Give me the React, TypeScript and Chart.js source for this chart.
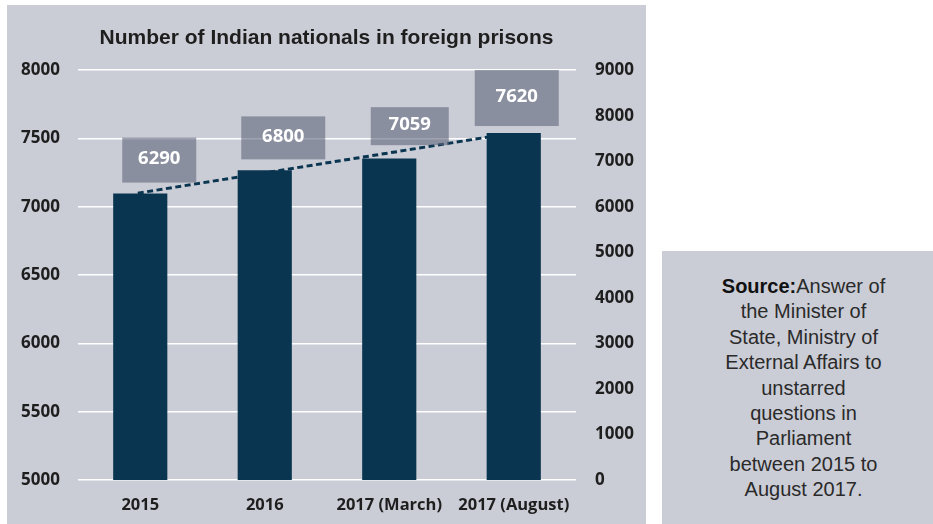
import React, { useEffect, useRef } from "react";
import { Chart, registerables } from "chart.js";

Chart.register(...registerables);

// ---- data ----
const categories = ["2015", "2016", "2017 (March)", "2017 (August)"];
const prisoners = [6290, 6800, 7059, 7620];
// dashed trend line end points (x in category-index units, y in right-axis units)
const trendX = [-0.02, 2.79];
const trendY = [6300, 7530];
const leftAxisRange = [5000, 8000];
const leftAxisStep = 500;
const rightAxisRange = [0, 9000];
const rightAxisStep = 1000;
const titleText = "Number of Indian nationals in foreign prisons";
const sourceLabel = "Source:";
const sourceLines = [
  "Answer of",
  "the Minister of",
  "State, Ministry of",
  "External Affairs to",
  "unstarred",
  "questions in",
  "Parliament",
  "between 2015 to",
  "August 2017.",
];

// ---- styles ----
const PANEL_BG = "#cbcdd6";
const BAR_COLOR = "#0a3550";
const BOX_COLOR = "rgba(95,102,124,0.6)";
const TEXT_COLOR = "#1e1e1e";
const LABEL_W = [74, 84, 78, 84];
const LABEL_H = [45, 43, 38, 56];
const LABEL_DX = [19, 18.5, 20.5, 3];
const LABEL_DY = [-33.5, -32.5, -32.4, -35];

const trendLine = {
  id: "trendLine",
  afterDatasetsDraw(chart: any) {
    const xs = chart.scales.x;
    const ys = chart.scales.y1;
    const ctx = chart.ctx;
    ctx.save();
    ctx.strokeStyle = BAR_COLOR;
    ctx.lineWidth = 3;
    ctx.setLineDash([6, 3.5]);
    ctx.beginPath();
    trendX.forEach((v, i) => {
      const px = xs.getPixelForValue(v);
      const py = ys.getPixelForValue(trendY[i]);
      if (i === 0) ctx.moveTo(px, py);
      else ctx.lineTo(px, py);
    });
    ctx.stroke();
    ctx.restore();
  },
};

const valueBoxes = {
  id: "valueBoxes",
  afterDatasetsDraw(chart: any) {
    const meta = chart.getDatasetMeta(0);
    const ctx = chart.ctx;
    ctx.save();
    meta.data.forEach((bar: any, i: number) => {
      const { x, y } = bar.getProps(["x", "y"], true);
      const w = LABEL_W[i];
      const h = LABEL_H[i];
      const cx = x + LABEL_DX[i];
      const cy = y + LABEL_DY[i];
      ctx.fillStyle = BOX_COLOR;
      ctx.fillRect(cx - w / 2, cy - h / 2, w, h);
      ctx.fillStyle = "#ffffff";
      ctx.font = "bold 18.5px 'Open Sans'";
      ctx.textAlign = "center";
      ctx.textBaseline = "middle";
      ctx.fillText(String(prisoners[i]), cx, cy - 1);
    });
    ctx.restore();
  },
};

export default function App() {
  const canvasRef = useRef<HTMLCanvasElement | null>(null);

  useEffect(() => {
    document.body.style.margin = "0";
    const canvas = canvasRef.current;
    if (!canvas) return;
    const yFont = { family: "'Open Sans'", size: 17, weight: "bold" as const };
    const xFont = { family: "'Open Sans'", size: 16.5, weight: "bold" as const };
    const plain = (v: any) => String(v);
    const chart = new Chart(canvas, {
      type: "bar",
      data: {
        labels: categories,
        datasets: [
          {
            data: prisoners,
            yAxisID: "y1",
            backgroundColor: BAR_COLOR,
            categoryPercentage: 1,
            barPercentage: 0.435,
          } as any,
        ],
      },
      options: {
        animation: false,
        responsive: false,
        maintainAspectRatio: false,
        layout: { padding: 0 },
        plugins: {
          legend: { display: false },
          tooltip: { enabled: false },
          title: {
            display: true,
            text: titleText,
            color: TEXT_COLOR,
            font: { family: "'Liberation Sans', Arial, sans-serif", size: 21, weight: "bold" },
            padding: { top: 21, bottom: 19 },
          },
        },
        scales: {
          x: {
            type: "category",
            grid: { display: false, drawTicks: false },
            border: { display: false },
            ticks: { font: xFont, color: TEXT_COLOR, padding: 15, maxRotation: 0, autoSkip: false },
            afterFit(s: any) {
              s.height = 44;
            },
          },
          y: {
            position: "left",
            min: leftAxisRange[0],
            max: leftAxisRange[1],
            ticks: { stepSize: leftAxisStep, padding: 18, font: yFont, color: TEXT_COLOR, callback: plain },
            grid: { color: "#ffffff", lineWidth: 1.5, drawTicks: false },
            border: { display: false },
            afterFit(s: any) {
              s.width = 71;
            },
          },
          y1: {
            position: "right",
            min: rightAxisRange[0],
            max: rightAxisRange[1],
            ticks: { stepSize: rightAxisStep, padding: 19, font: yFont, color: TEXT_COLOR, callback: plain },
            grid: { display: false, drawTicks: false },
            border: { display: false },
            afterFit(s: any) {
              s.width = 70;
            },
          },
        },
      } as any,
      plugins: [trendLine, valueBoxes],
    });
    return () => chart.destroy();
  }, []);

  return (
    <div style={{ position: "absolute", left: 0, top: 0, width: 933, height: 524, background: "#ffffff", overflow: "hidden" }}>
      <div style={{ position: "absolute", left: 7, top: 5, width: 639, height: 519, background: PANEL_BG }}>
        <canvas ref={canvasRef} width={639} height={519} style={{ width: 639, height: 519, display: "block" }} />
      </div>
      <div style={{ position: "absolute", left: 662, top: 251, width: 271, height: 273, background: PANEL_BG }} />
      <div
        style={{
          position: "absolute",
          left: 668,
          top: 274,
          width: 271,
          textAlign: "center",
          fontFamily: "'Liberation Sans', Arial, sans-serif",
          fontSize: 20,
          lineHeight: "25.4px",
          color: "#2a2a2a",
        }}
      >
        {sourceLines.map((line, i) => (
          <div key={i}>
            {i === 0 ? <span style={{ fontWeight: "bold", color: "#111" }}>{sourceLabel}</span> : null}
            {line}
          </div>
        ))}
      </div>
    </div>
  );
}
